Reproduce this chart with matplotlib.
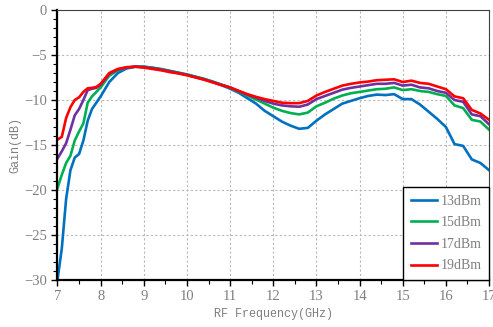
import matplotlib
matplotlib.use("Agg")
import matplotlib.pyplot as plt
from matplotlib.ticker import MultipleLocator

# RF frequency (GHz)
freq = [7.0, 7.1, 7.2, 7.3, 7.4, 7.5, 7.6, 7.7, 7.8, 7.9,
        8.0, 8.2, 8.4, 8.6, 8.8, 9.0, 9.2, 9.4, 9.6, 9.8,
        10.0, 10.2, 10.4, 10.6, 10.8, 11.0, 11.2, 11.4, 11.6, 11.8,
        12.0, 12.2, 12.4, 12.6, 12.8, 13.0, 13.2, 13.4, 13.6, 13.8,
        14.0, 14.2, 14.4, 14.6, 14.8, 15.0, 15.2, 15.4, 15.6, 15.8,
        16.0, 16.2, 16.4, 16.6, 16.8, 17.0]

gain_13 = [-30.0, -26.5, -21.0, -17.8, -16.4, -16.0, -14.5, -12.3, -11.0, -10.3,
           -9.6, -8.0, -7.0, -6.5, -6.3, -6.3, -6.45, -6.6, -6.8, -7.0,
           -7.2, -7.45, -7.7, -8.0, -8.35, -8.75, -9.2, -9.8, -10.4, -11.2,
           -11.8, -12.4, -12.85, -13.2, -13.1, -12.3, -11.6, -11.0, -10.4, -10.1,
           -9.8, -9.55, -9.4, -9.45, -9.35, -9.9, -9.9, -10.5, -11.3, -12.1,
           -13.0, -14.9, -15.1, -16.6, -17.0, -17.8]

gain_15 = [-19.8, -18.3, -17.0, -16.2, -14.5, -13.5, -12.6, -10.3, -9.6, -9.1,
           -8.6, -7.3, -6.7, -6.4, -6.3, -6.3, -6.4, -6.55, -6.75, -6.95,
           -7.15, -7.4, -7.65, -7.95, -8.3, -8.65, -9.05, -9.5, -9.95, -10.4,
           -10.85, -11.2, -11.45, -11.6, -11.4, -10.7, -10.3, -9.85, -9.5, -9.25,
           -9.1, -8.95, -8.8, -8.75, -8.6, -8.9, -8.8, -9.0, -9.1, -9.35,
           -9.55, -10.6, -10.9, -12.2, -12.4, -13.3]

gain_17 = [-16.5, -15.7, -14.8, -13.3, -11.7, -11.0, -10.0, -8.9, -8.75, -8.65,
           -8.3, -7.1, -6.6, -6.4, -6.3, -6.35, -6.45, -6.6, -6.8, -7.0,
           -7.2, -7.45, -7.7, -8.0, -8.3, -8.6, -9.0, -9.4, -9.75, -10.1,
           -10.4, -10.6, -10.7, -10.75, -10.5, -9.9, -9.55, -9.2, -8.85, -8.65,
           -8.5, -8.35, -8.2, -8.2, -8.1, -8.4, -8.3, -8.6, -8.7, -9.0,
           -9.2, -10.0, -10.2, -11.6, -11.8, -12.7]

gain_19 = [-14.4, -14.1, -12.0, -10.8, -10.0, -9.7, -9.1, -8.7, -8.65, -8.55,
           -8.2, -7.0, -6.55, -6.35, -6.3, -6.4, -6.55, -6.7, -6.9, -7.05,
           -7.25, -7.5, -7.75, -8.05, -8.35, -8.6, -9.0, -9.35, -9.65, -9.9,
           -10.1, -10.3, -10.35, -10.35, -10.1, -9.5, -9.1, -8.75, -8.4, -8.2,
           -8.05, -7.95, -7.8, -7.75, -7.7, -8.0, -7.85, -8.1, -8.2, -8.5,
           -8.8, -9.6, -9.8, -11.1, -11.5, -12.2]

series = [
    ("13dBm", gain_13, "#0070C0"),
    ("15dBm", gain_15, "#00B050"),
    ("17dBm", gain_17, "#7030A0"),
    ("19dBm", gain_19, "#FF0000"),
]

text_gray = "#7f7f7f"

fig = plt.figure(figsize=(4.93, 3.27), dpi=100, facecolor="white")
ax = fig.add_axes([0.1166, 0.1437, 0.8754, 0.8257])

for label, g, color in series:
    ax.plot(freq, g, color=color, linewidth=1.9, label=label)

ax.set_xlim(7, 17)
ax.set_ylim(-30, 0)
ax.xaxis.set_major_locator(MultipleLocator(1))
ax.xaxis.set_minor_locator(MultipleLocator(0.5))
ax.yaxis.set_major_locator(MultipleLocator(5))
ax.yaxis.set_minor_locator(MultipleLocator(1))

ax.grid(True, which="major", color="#b8b8b8", linestyle=(0, (2, 2)), linewidth=0.8)
ax.set_axisbelow(True)

# thick left/bottom axes, thin frame elsewhere
for side in ["left", "bottom"]:
    ax.spines[side].set_linewidth(1.6)
    ax.spines[side].set_color("black")
for side in ["top", "right"]:
    ax.spines[side].set_linewidth(0.8)
    ax.spines[side].set_color("#404040")

ax.tick_params(which="major", direction="out", length=4, width=1.0, colors="black",
               labelcolor=text_gray, labelsize=10.5)
ax.tick_params(which="minor", direction="out", length=3, width=0.8, colors="black")
for lbl in ax.get_xticklabels() + ax.get_yticklabels():
    lbl.set_fontfamily("Liberation Serif")

ax.set_xlabel("RF Frequency(GHz)", fontfamily="Liberation Mono", fontsize=8.5,
              color=text_gray, labelpad=3)
ax.set_ylabel("Gain(dB)", fontfamily="Liberation Mono", fontsize=8.5,
              color=text_gray, labelpad=2)

leg = ax.legend(loc="lower right", bbox_to_anchor=(1.0, 0.0), borderaxespad=0,
                fancybox=False, edgecolor="black", framealpha=1.0,
                prop={"family": "Liberation Serif", "size": 10},
                handlelength=1.9, handletextpad=0.25, labelspacing=0.62,
                borderpad=0.55)
leg.get_frame().set_linewidth(1.0)
for t in leg.get_texts():
    t.set_color(text_gray)

fig.savefig("out.png", dpi=100, facecolor="white")
